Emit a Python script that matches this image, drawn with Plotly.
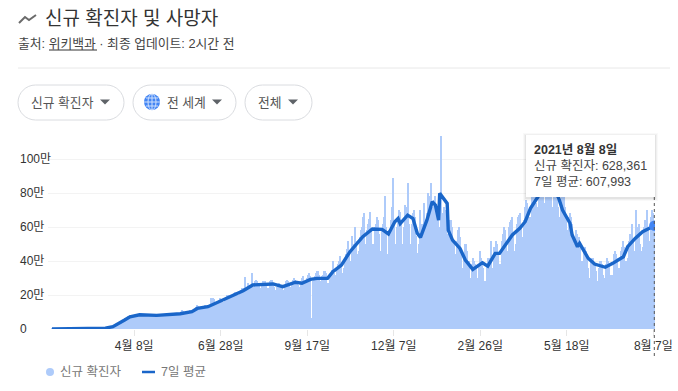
import pandas as pd
import plotly.graph_objects as go

START = "2020-01-22"
# daily new cases, unit: 만 (10,000), one row per week from START
new_cases = [
 0.05,0.03,0.06,0.05,0.07,0.2,0.27,
 0.26,0.2,0.17,0.2,0.3,0.37,0.3,
 0.36,0.38,0.3,0.26,0.26,0.25,0.2,
 0.2,0.2,0.2,0.2,0.15,0.4,0.5,
 0.2,0.2,0.15,0.15,0.2,0.1,0.1,
 0.15,0.2,0.2,0.3,0.3,0.25,0.2,
 0.3,0.3,0.3,0.3,0.4,0.5,0.5,
 0.5,0.6,0.7,0.9,1,1.2,1.3,
 1.3,1.6,2,2.5,2.6,3,3.3,
 3.5,4,4.8,5.5,6,6.3,6,
 6.5,7.5,7.8,8,8.5,8,7.5,
 7.6,8.2,8.5,9,8.8,8,7.8,
 7.5,8,8.4,8.6,8.8,8,7.5,
 7.2,8,8.4,8.8,8.5,7.6,7.2,
 7,8,8.5,9,8.7,8,7.5,
 7.8,8.6,9,9.5,9.2,8.6,8,
 8,8.8,9.2,9.6,9.5,8.8,8.2,
 8.5,9.5,10,11,10.8,9.8,9,
 9,10,10.5,11,11.3,10.5,9.8,
 10,12,13,14,13.5,12.8,12,
 11.8,13.2,13.8,14,13.8,13,12.5,
 12.6,14,18,15,18.5,17.5,14,
 14.5,16,17,18,17.5,17,16,
 16,18,19,20,20,19,18,
 18,19.5,21,22,21.5,20.5,19,
 20,22,23,24,24,23,30.5,
 22,23,27,24,26,33,25,
 24,28,29,28,27,26,24,
 22,27,28,28,26,24,18,
 24,28,29,29,27,25,23,
 22,25,26,27,26,24,22,
 23,26,28,29,28,27,25,
 24,27,29,30,29,27,26,
 18,25,28,30,31,28,26,
 27,30,32,33,31,6.5,28,
 29,31,33,34,34,32,27,
 28,31,32,34,34,33,27,
 27,30,33,35,40,33,30,
 32,36,38,40,43,37,33,
 36,40,44,47,52,46,38,
 40,55,50,46,60,52,44,
 46,54,58,60,66,68,50,
 48,58,62,65,69,58,48,
 50,60,62,66,64,56,44,
 46,58,62,66,78,60,42,
 44,58,64,72,89,62,46,
 50,60,66,70,69,62,50,
 44,60,73,72,86,62,48,
 50,62,68,70,66,55,45,
 40,50,70,62,58,74,60,
 64,68,80,76,78,86,72,
 70,76,78,72,68,60,30,
 113.5,66,68,72,70,66,56,
 50,58,64,64,60,52,44,
 42,52,58,60,54,46,36,
 36,44,50,50,46,40,24,
 30,38,42,40,38,36,30,
 30,38,46,42,40,36,28,
 28,38,42,42,40,52,34,
 36,48,46,52,50,44,38,
 38,52,56,60,58,50,40,
 46,60,63,64,66,56,46,
 50,62,66,67,68,60,54,
 52,64,72,76,74,66,62,
 66,78,82,84,84,74,66,
 72,84,90,90,88,78,72,
 74,88,92,92,90,78,68,
 72,84,88,88,84,72,66,
 66,74,78,78,72,64,58,
 58,66,68,66,62,56,48,
 50,58,56,54,50,2,40,
 38,46,48,46,42,36,28,
 30,40,42,42,38,34,28,
 28,36,40,40,38,32,26,
 30,38,42,40,38,32,28,
 32,44,46,44,42,36,30,
 36,46,48,52,48,40,38,
 42,52,56,56,62,52,44,
 46,70,60,58,62,50,46,
 48,60,64,64,70,58,50,
 52,66,70,68,62.84,
]
# 7-day average, read at the days (since START) where the line bends
avg_days = [0,14,28,42,45,50,57,64,68,73,82,98,110,120,131,136,146,160,179,188,207,216,228,234,242,248,
            258,263,271,279,287,291,300,309,315,321,324,326,333,338,342,345,351,356,359,362,363,370,371,
            375,382,387,394,403,408,415,419,431,438,443,448,455,463,474,478,485,487,492,494,502,508,518,
            525,535,539,546,553,564]
avg_values = [0.1,0.25,0.2,0.25,0.3,0.5,1.4,3.6,5.3,7.2,8.4,8,8.5,9,10.2,12.1,13.1,17,22.5,25.9,26.5,24.9,27.5,26.9,29.2,29.8,
              29.8,33.7,37.6,45.5,51.3,54.3,58.8,58.6,55.9,63.1,65,62,67,65,56.3,53.9,64,74.9,72.9,64,79.8,73.9,58.2,
              52.3,47.4,40.6,35.1,39,37,44.5,44.5,55.3,59.2,63.1,71,77.8,84,77.8,70,62.2,55.3,48.4,50.4,41.6,38.2,36.3,
              38.6,42.5,48.4,53.3,57.2,60.8]
y_ticks = [0, 20, 40, 60, 80, 100]
y_labels = ["0", "20만", "40만", "60만", "80만", "100만"]
x_ticks = ["2020-04-08", "2020-06-28", "2020-09-17", "2020-12-07", "2021-02-26", "2021-05-18", "2021-08-07"]
x_labels = ["4월 8일", "6월 28일", "9월 17일", "12월 7일", "2월 26일", "5월 18일", "8월 7일"]
title = "신규 확진자 및 사망자"
subtitle = "출처: 위키백과 · 최종 업데이트: 2시간 전"
pills = ["신규 확진자", "전 세계", "전체"]
tip = ["<b>2021년 8월 8일</b>", "신규 확진자: 628,361", "7일 평균: 607,993"]
legend_labels = ["신규 확진자", "7일 평균"]

FONT = "Liberation Sans, Noto Sans CJK KR, sans-serif"
W, H = 678, 391
L, R, T, B = 48, 655, 130, 329
BAR, LINE, DOT = "#aecbfa", "#1a66c9", "#4285f4"

def px(x): return (x - L) / (R - L)
def py(y): return (B - y) / (B - T)

bar_dates = pd.date_range(START, periods=len(new_cases), freq="D")
line_dates = pd.Timestamp(START) + pd.to_timedelta(avg_days, unit="D")

fig = go.Figure()
fig.add_bar(x=bar_dates, y=new_cases, width=86400000, marker=dict(color=BAR, line=dict(width=0)), name=legend_labels[0])
fig.add_scatter(x=line_dates, y=avg_values, mode="lines", line=dict(color=LINE, width=3.4), name=legend_labels[1])
fig.add_scatter(x=[line_dates[-1]], y=[avg_values[-1]], mode="markers",
                marker=dict(color=DOT, size=10.5), showlegend=False)

shapes, notes = [], []
def rect(x0, y0, x1, y1, **kw):
    shapes.append(dict(type="rect", xref="paper", yref="paper", x0=px(x0), x1=px(x1), y0=py(y0), y1=py(y1), layer="above", **kw))
def seg(x0, y0, x1, y1, color, width=1, dash="solid"):
    shapes.append(dict(type="line", xref="paper", yref="paper", x0=px(x0), x1=px(x1), y0=py(y0), y1=py(y1),
                       layer="above", line=dict(color=color, width=width, dash=dash)))
def text(x, y, s, size=12, color="#444", anchor="left"):
    notes.append(dict(xref="paper", yref="paper", x=px(x), y=py(y), text=s, showarrow=False, xanchor=anchor, yanchor="middle",
                      font=dict(family=FONT, size=size, color=color), borderpad=0, borderwidth=0))
def tri(cx, cy, color="#5f6368"):
    shapes.append(dict(type="path", xref="paper", yref="paper", layer="above", fillcolor=color, line=dict(width=0),
                       path=f"M{px(cx-5)},{py(cy-2.5)} L{px(cx+5)},{py(cy-2.5)} L{px(cx)},{py(cy+2.5)} Z"))
def pill(x0, y0, x1, y1):
    r = (y1 - y0) / 2
    k = r * 0.45
    p = (f"M{px(x0+r)},{py(y0)} L{px(x1-r)},{py(y0)} "
         f"C{px(x1-k)},{py(y0)} {px(x1)},{py(y0+k)} {px(x1)},{py(y0+r)} "
         f"C{px(x1)},{py(y1-k)} {px(x1-k)},{py(y1)} {px(x1-r)},{py(y1)} "
         f"L{px(x0+r)},{py(y1)} "
         f"C{px(x0+k)},{py(y1)} {px(x0)},{py(y1-k)} {px(x0)},{py(y0+r)} "
         f"C{px(x0)},{py(y0+k)} {px(x0+k)},{py(y0)} {px(x0+r)},{py(y0)} Z")
    shapes.append(dict(type="path", xref="paper", yref="paper", layer="above", path=p,
                       fillcolor="white", line=dict(color="#dadce0", width=1)))

# header
shapes.append(dict(type="path", xref="paper", yref="paper", layer="above", line=dict(color="#6b6b6b", width=2),
                   path=f"M{px(19)},{py(23)} L{px(25)},{py(17)} L{px(29)},{py(20)} L{px(36)},{py(15)}"))
text(45, 18, title, size=19, color="#333")
text(18, 43, subtitle, size=12.8, color="#444")
seg(49, 50, 97, 50, "#333")
seg(18, 68, 670, 68, "#e8e8e8")

# filter pills
for (x0, x1), label, tx, ax in zip([(18, 124), (133, 236), (245, 312)], pills, [31, 167, 258], [105, 217, 293]):
    pill(x0, 85, x1, 120)
    text(tx, 102, label, size=12.8, color="#555")
    tri(ax, 102)
# globe icon
shapes.append(dict(type="circle", xref="paper", yref="paper", layer="above", x0=px(144), x1=px(160), y0=py(94), y1=py(110),
                   fillcolor=DOT, line=dict(width=0)))
seg(144, 102, 160, 102, "#cfe0fc")
seg(146, 98, 158, 98, "#cfe0fc")
seg(146, 106, 158, 106, "#cfe0fc")
seg(152, 94, 152, 110, "#cfe0fc")
shapes.append(dict(type="circle", xref="paper", yref="paper", layer="above", x0=px(148), x1=px(156), y0=py(94), y1=py(110),
                   line=dict(color="#cfe0fc", width=1)))

# y labels, left aligned
for v, s in zip(y_ticks, y_labels):
    notes.append(dict(xref="paper", yref="y", x=px(18), y=v, text=s, showarrow=False, xanchor="left", yanchor="middle",
                      font=dict(family=FONT, size=12, color="#333")))

# hover guide and tooltip
seg(654.3, 197, 654.3, 357, "#555", dash="dot")
for grow, op in [(3, 0.025), (2, 0.035), (1, 0.05)]:
    rect(526 - grow, 135 - grow + 1, 655 + grow, 197 + grow + 1, line=dict(width=0), fillcolor=f"rgba(0,0,0,{op})")
rect(526, 135, 655, 197, line=dict(width=0), fillcolor="white")
text(534, 149, tip[0], size=12.5, color="#333")
text(534, 166, tip[1], size=12.5, color="#444")
text(534, 182, tip[2], size=12.5, color="#444")

# legend
shapes.append(dict(type="circle", xref="paper", yref="paper", layer="above", x0=px(46), x1=px(54), y0=py(368), y1=py(376),
                   fillcolor=BAR, line=dict(width=0)))
text(60, 372, legend_labels[0], size=12.5, color="#777")
seg(142, 372, 155, 372, LINE, width=2.5)
text(161, 372, legend_labels[1], size=12.5, color="#777")

fig.update_layout(
    width=W, height=H, margin=dict(l=L, r=W - R, t=T, b=H - B, pad=0, autoexpand=False),
    autosize=False, paper_bgcolor="white", plot_bgcolor="white", showlegend=False, bargap=0,
    hovermode=False, shapes=shapes, annotations=notes, font=dict(family=FONT),
    xaxis=dict(range=["2020-01-18 06:00", "2021-08-08 14:00"], tickmode="array", tickvals=x_ticks, ticktext=x_labels,
               automargin=False, showgrid=False, zeroline=False, ticks="outside", ticklen=6, tickcolor="#e6e6e6", tickwidth=1,
               tickfont=dict(family=FONT, size=12, color="#333"), showline=False),
    yaxis=dict(range=[0, (B - T) / 34 * 20], tickmode="array", tickvals=y_ticks, showticklabels=False, automargin=False,
               gridcolor="#f3f3f3", gridwidth=1, zeroline=False, showline=False, ticks=""),
)
fig.write_html("out.html", config=dict(displayModeBar=False),
               post_script="document.body.style.margin='0';document.documentElement.style.overflow='hidden';")
